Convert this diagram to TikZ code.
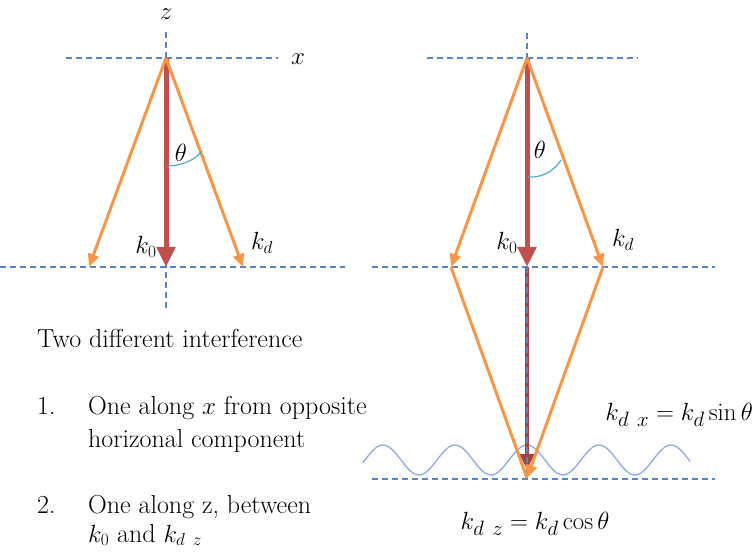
\documentclass[tikz,border=0pt]{standalone}
\usetikzlibrary{arrows.meta}
\definecolor{redv}{HTML}{C0504D}
\definecolor{orv}{HTML}{F79646}
\definecolor{dashb}{HTML}{5585CC}
\definecolor{arcc}{HTML}{4BACC6}
\definecolor{wavec}{HTML}{8FAADC}
\begin{document}
\begin{tikzpicture}[x=1pt,y=-1pt,
  guide/.style={draw=dashb, line width=1.4pt, dash pattern=on 6pt off 4pt},
  kzero/.style={draw=redv, line width=5pt, -{Triangle[length=20pt,width=18pt]}},
  kzerob/.style={draw=redv!85!black, line width=4pt, -{Triangle[length=16pt,width=14pt]}},
  kvec/.style={draw=orv, line width=3pt, -{Triangle[length=13pt,width=11pt]}},
  kline/.style={draw=orv, line width=3pt},
  anglearc/.style={draw=arcc, line width=1.2pt},
  wave/.style={draw=wavec, line width=1.3pt},
  lbl/.style={font=\fontsize{26}{30}\selectfont, inner sep=0pt},
  eqn/.style={font=\fontsize{28}{32}\selectfont, inner sep=0pt},
  txt/.style={font=\fontsize{26}{30}\selectfont, inner sep=0pt, anchor=base west}]
\useasboundingbox (0,0) rectangle (755,553);

% ---------- left diagram ----------
\coordinate (LA) at (166,58);
\coordinate (LB) at (166,267);
\coordinate (LL) at (89,267);
\coordinate (LR) at (243,267);
\coordinate (LzT) at (166,32);
\coordinate (LzB) at (166,312);
\coordinate (LxL) at (66,58);
\coordinate (LxR) at (278,58);
\coordinate (LmL) at (0,267);
\coordinate (LmR) at (345,267);
\draw[guide] (LxL) -- (LxR);
\draw[guide] (LzT) -- (LzB);
\draw[guide] (LmL) -- (LmR);
\draw[kzero] (LA) -- (LB);
\draw[kvec] (LA) -- (LL);
\draw[kvec] (LA) -- (LR);
\coordinate (La1) at (167,166);
\coordinate (La2) at (202,151);
\draw[anglearc] (La1) .. controls (182,166) and (195,160) .. (La2);
\node[lbl] (zlab) at (166,14) {$z$};
\node[lbl] (xlab) at (298,59) {$x$};
\node[lbl] (thL) at (181,153) {$\theta$};
\node[lbl] (k0L) at (146,247) {$k_0$};
\node[lbl] (kdL) at (262,243) {$k_d$};

% ---------- right diagram ----------
\coordinate (RA) at (527,58);
\coordinate (RB) at (527,267);
\coordinate (RL) at (451,267);
\coordinate (RR) at (603,267);
\coordinate (RD) at (527,478);
\coordinate (RRed) at (527,470);
\coordinate (RzT) at (527,33);
\coordinate (RxL) at (427,58);
\coordinate (RxR) at (638,58);
\coordinate (RmL) at (372,267);
\coordinate (RmR) at (715,267);
\coordinate (RbL) at (372,479);
\coordinate (RbR) at (715,479);
\coordinate (RbC) at (527,479);
\draw[guide] (RxL) -- (RxR);
\draw[guide] (RzT) -- (RA);
\draw[guide] (RmL) -- (RmR);
\draw[guide] (RbL) -- (RbR);
\draw[wave] plot[domain=363:690, samples=160] (\x, {460-15*cos((\x-383)*5)});
\draw[kzero] (RA) -- (RB);
\draw[kzerob] (RB) -- (RRed);
\draw[guide] (RB) -- (RbC);
\draw[kvec] (RA) -- (RL);
\draw[kvec] (RA) -- (RR);
\draw[kline] (RL) -- (RD);
\draw[kvec] (RR) -- (RD);
\coordinate (Ra1) at (528,177);
\coordinate (Ra2) at (561,160);
\draw[anglearc] (Ra1) .. controls (542,178) and (554,171) .. (Ra2);
\node[lbl] (thR) at (540,150) {$\theta$};
\node[lbl] (k0R) at (507,243) {$k_0$};
\node[lbl] (kdR) at (623,240) {$k_d$};
\node[eqn, anchor=east] (kdx) at (753,415) {$k_{d\ x}=k_d\sin\theta$};
\node[eqn] (kdz) at (535,524) {$k_{d\ z}=k_d\cos\theta$};

% ---------- text ----------
\node[txt] (t0) at (37,348) {Two different interference};
\node[txt] (n1) at (37,414) {1.};
\node[txt] (t1a) at (88,414) {One along $x$ from opposite};
\node[txt] (t1b) at (88,447) {horizonal component};
\node[txt] (n2) at (37,513) {2.};
\node[txt] (t2a) at (88,513) {One along z, between};
\node[txt] (t2b) at (88,542) {$k_0$ and $k_{d\ z}$};
\end{tikzpicture}
\end{document}
